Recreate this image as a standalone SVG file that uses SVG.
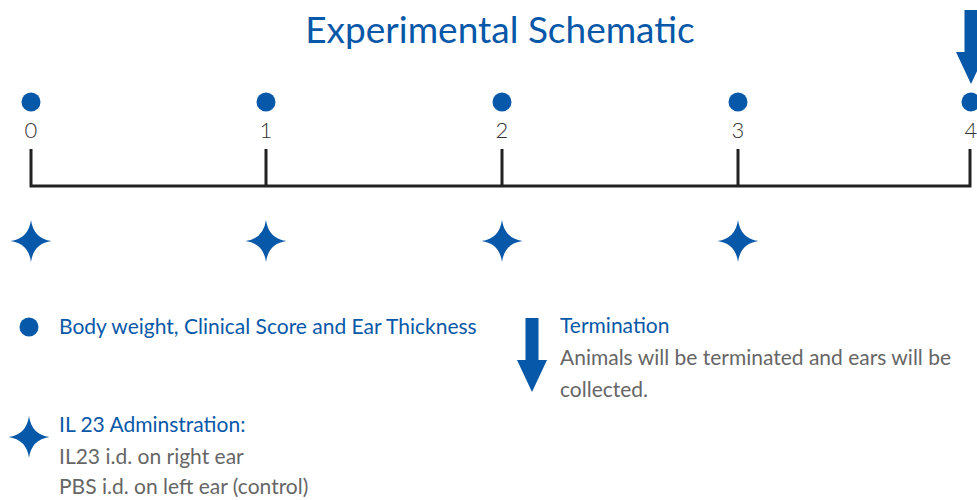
<svg xmlns="http://www.w3.org/2000/svg" width="977" height="500" viewBox="0 0 977 500">
<defs>
<style>
.blue{fill:#0758a8}
.t{font-family:Lato,"Open Sans","Liberation Sans",sans-serif}
.title{font-size:37px;fill:#0758a8}
.num{font-size:22px;fill:#333;font-weight:300}
.lb{font-size:21px;fill:#0758a8}
.lg{font-size:21px;fill:#666}
.axis{stroke:#222;stroke-width:3;fill:none}
</style>
<path id="star" d="M0,-21 Q2.5,-2.5 20.5,0 Q2.5,2.5 0,21 Q-2.5,2.5 -20.5,0 Q-2.5,-2.5 0,-21 Z"/>
<path id="arrow" d="M-6.5,0 H6.5 V42 H15 L0,74 L-15,42 H-6.5 Z"/>
</defs>
<rect width="977" height="500" fill="#fff"/>
<text class="t title" x="500" y="43" text-anchor="middle">Experimental Schematic</text>
<g id="connectors">
<path class="axis" d="M31,149 V186 H970 V149 M266,149 V186 M502,149 V186 M738,149 V186"/>
</g>
<g id="day0"><circle class="blue" cx="31" cy="102" r="9.5"/><text class="t num" x="31" y="138" text-anchor="middle">0</text><use href="#star" class="blue" x="31" y="241"/></g>
<g id="day1"><circle class="blue" cx="266" cy="102" r="9.5"/><text class="t num" x="266" y="138" text-anchor="middle">1</text><use href="#star" class="blue" x="266" y="241"/></g>
<g id="day2"><circle class="blue" cx="502" cy="102" r="9.5"/><text class="t num" x="502" y="138" text-anchor="middle">2</text><use href="#star" class="blue" x="502" y="241"/></g>
<g id="day3"><circle class="blue" cx="738" cy="102" r="9.5"/><text class="t num" x="738" y="138" text-anchor="middle">3</text><use href="#star" class="blue" x="738" y="241"/></g>
<g id="day4"><circle class="blue" cx="971" cy="102" r="9.5"/><text class="t num" x="971" y="138" text-anchor="middle">4</text><use href="#arrow" class="blue" x="971" y="10"/></g>
<g id="legend-dot"><circle class="blue" cx="29" cy="327" r="9.5"/><text class="t lb" x="59" y="334">Body weight, Clinical Score and Ear Thickness</text></g>
<g id="legend-arrow"><use href="#arrow" class="blue" x="532" y="318"/><text class="t lb" x="560" y="333">Termination</text><text class="t lg" x="560" y="365">Animals will be terminated and ears will be</text><text class="t lg" x="560" y="397">collected.</text></g>
<g id="legend-star"><use href="#star" class="blue" x="29" y="437"/><text class="t lb" x="59" y="432">IL 23 Adminstration:</text><text class="t lg" x="59" y="464">IL23 i.d. on right ear</text><text class="t lg" x="59" y="494">PBS i.d. on left ear (control)</text></g>
</svg>
